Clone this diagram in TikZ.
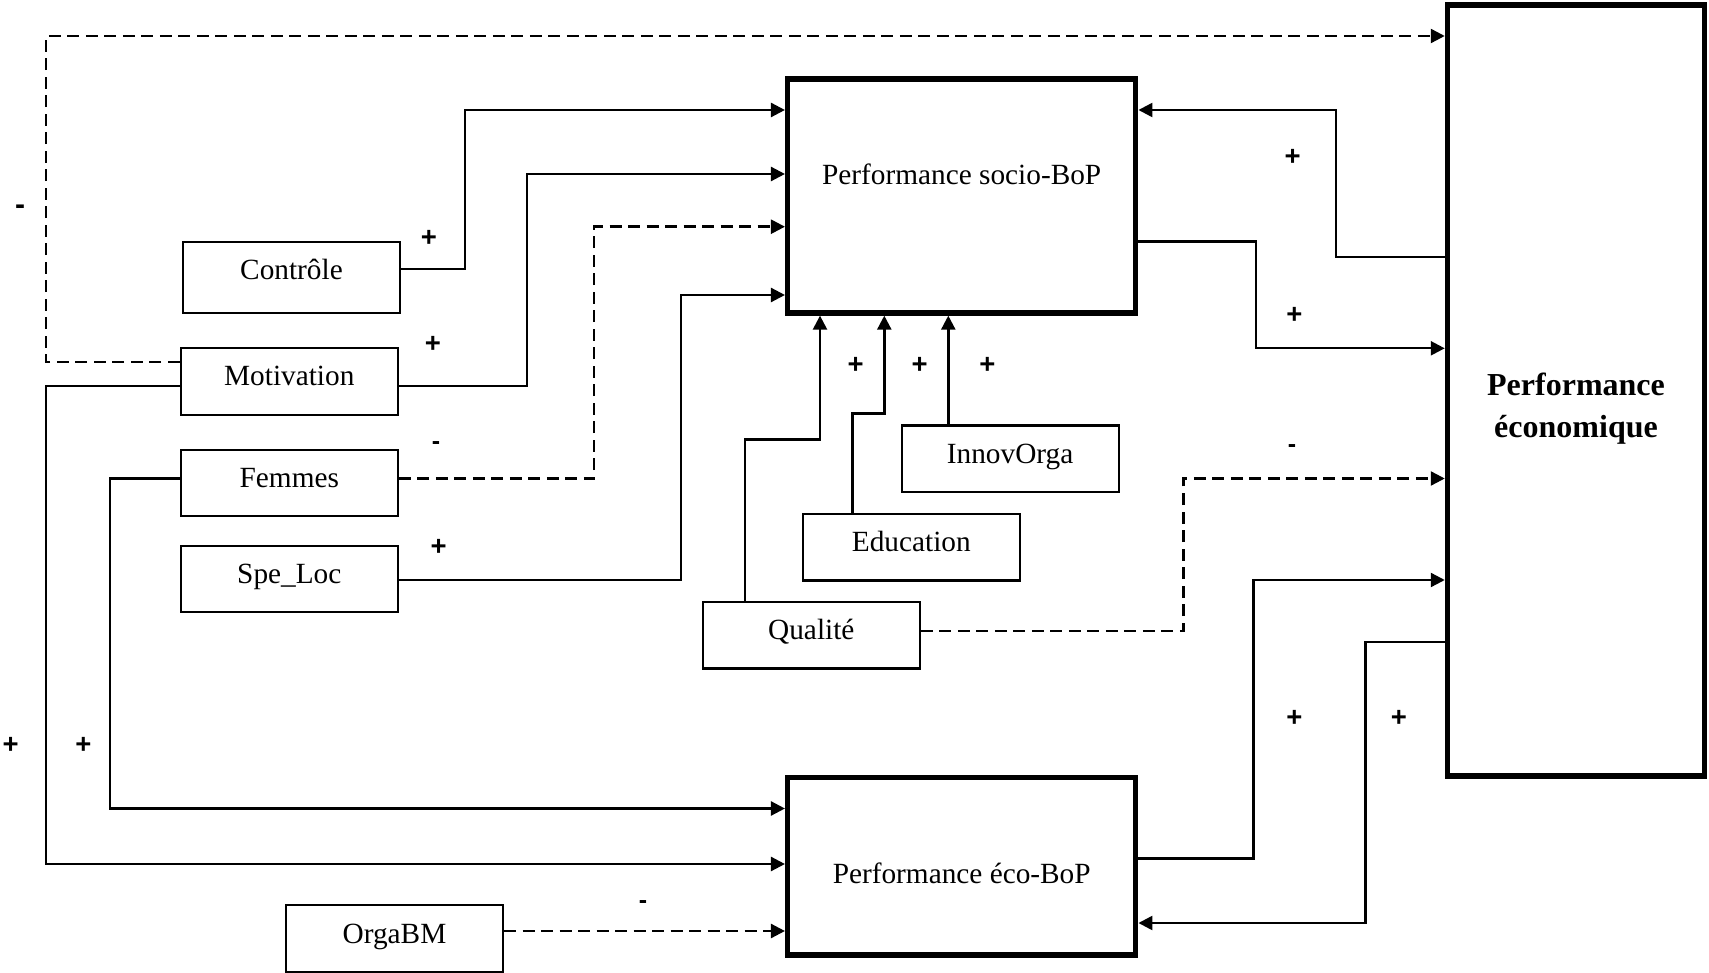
\documentclass[tikz,border=0pt]{standalone}
\usepackage{fontspec}
\setmainfont{Liberation Serif}
\newfontfamily\signfont{Liberation Sans}
\usetikzlibrary{arrows.meta}
\begin{document}
\begin{tikzpicture}[x=1pt,y=-1pt,
  txt/.style={font=\fontsize{29.3}{35}\selectfont},
  sbox/.style={txt, draw, line width=2.2pt, minimum width=217pt, minimum height=67pt,
    inner sep=0pt, text height=22pt, text depth=13pt},
  bbox/.style={txt, draw, line width=5.5pt, inner sep=0pt},
  conn/.style={line width=2.4pt},
  arr/.style={conn, -{Triangle[length=14pt,width=14pt]}},
  dsh/.style={dash pattern=on 12pt off 6.5pt},
  sign/.style={font=\signfont\bfseries\fontsize{27.5}{30}\selectfont, inner sep=0pt},
  minus/.style={font=\signfont\bfseries\fontsize{25}{30}\selectfont, inner sep=0pt},
  bminus/.style={font=\signfont\bfseries\fontsize{30}{30}\selectfont, inner sep=0pt}]
\useasboundingbox[fill=white] (0,0) rectangle (1709,973);

% big boxes
\node[bbox, minimum width=348pt, minimum height=234pt, text height=5pt, text depth=26.8pt]
  (socio) at (961.7,195.9) {Performance socio-BoP};
\node[bbox, minimum width=348pt, minimum height=177.5pt, text height=33.4pt, text depth=0pt]
  (eco) at (961.7,866.3) {Performance éco-BoP};
\node[bbox, minimum width=257pt, minimum height=771pt] (pe) at (1576,390.5) {};
\node[font=\bfseries\fontsize{32}{42}\selectfont, align=center, inner sep=0pt]
  (pelabel) at (1576,409) {Performance\\économique};

% small boxes
\node[sbox, minimum height=71.5pt, text depth=18.4pt] (ctrl) at (291.5,277.5) {Contrôle};
\node[sbox] (motiv) at (289.3,381.5) {Motivation};
\node[sbox, minimum height=66pt] (femmes) at (289.3,483) {Femmes};
\node[sbox, minimum height=66pt] (speloc) at (289.3,579) {Spe\_Loc};
\node[sbox] (orgabm) at (394.5,938.5) {OrgaBM};
\node[sbox, minimum height=66.4pt] (innov) at (1010.1,458.8) {InnovOrga};
\node[sbox, minimum height=66.5pt] (educ) at (911.3,547.3) {Education};
\node[sbox, minimum height=66.8pt] (qual) at (811.3,635.1) {Qualité};

% connectors into socio-BoP
\draw[arr] (ctrl.east |- 0,269) -| (465,110) -- (socio.west |- 0,110);
\draw[arr] (motiv.east |- 0,386) -| (527,174) -- (socio.west |- 0,174);
\draw[arr,dsh] (femmes.east |- 0,478.5) -| (594,226.7) -- (socio.west |- 0,226.7);
\draw[arr] (speloc.east |- 0,580) -| (681,295) -- (socio.west |- 0,295);
\draw[arr] (qual.north -| 744.7,0) |- (820,439.5) -- (socio.south -| 820,0);
\draw[arr] (educ.north -| 852.6,0) |- (884.3,413.5) -- (socio.south -| 884.3,0);
\draw[arr] (innov.north -| 948.3,0) -- (socio.south -| 948.3,0);

% connectors into eco-BoP
\draw[arr] (motiv.west |- 0,386) -| (46,864) -- (eco.west |- 0,864);
\draw[arr] (femmes.west |- 0,478.5) -| (110,808.5) -- (eco.west |- 0,808.5);
\draw[arr,dsh] (orgabm.east |- 0,931) -- (eco.west |- 0,931);

% connectors with Performance economique
\draw[arr,dsh] (motiv.west |- 0,362) -| (46,36) -- (pe.west |- 0,36);
\draw[arr,dsh] (qual.east |- 0,631) -| (1183.4,478.5) -- (pe.west |- 0,478.5);
\draw[arr] (pe.west |- 0,257.3) -| (1336,110) -- (socio.east |- 0,110);
\draw[arr] (socio.east |- 0,241.7) -| (1255.9,348.3) -- (pe.west |- 0,348.3);
\draw[arr] (eco.east |- 0,858.5) -| (1253.4,580) -- (pe.west |- 0,580);
\draw[arr] (pe.west |- 0,642) -| (1365.3,923) -- (eco.east |- 0,923);

% signs
\node[bminus] (s1) at (20,210) {-};
\node[sign] (s2) at (429,238) {+};
\node[sign] (s3) at (433,344) {+};
\node[minus] (s4) at (436,446) {-};
\node[sign] (s5) at (438.6,547) {+};
\node[sign] (s6) at (10.7,745) {+};
\node[sign] (s7) at (83.4,745) {+};
\node[sign] (s8) at (855.6,365.7) {+};
\node[sign] (s9) at (919.6,365.7) {+};
\node[sign] (s10) at (987.3,365.7) {+};
\node[sign] (s11) at (1292.6,157) {+};
\node[sign] (s12) at (1294.4,315) {+};
\node[minus] (s13) at (1292,448.6) {-};
\node[sign] (s14) at (1294.4,718) {+};
\node[sign] (s15) at (1398.8,718) {+};
\node[minus] (s16) at (643,905) {-};
\end{tikzpicture}
\end{document}
